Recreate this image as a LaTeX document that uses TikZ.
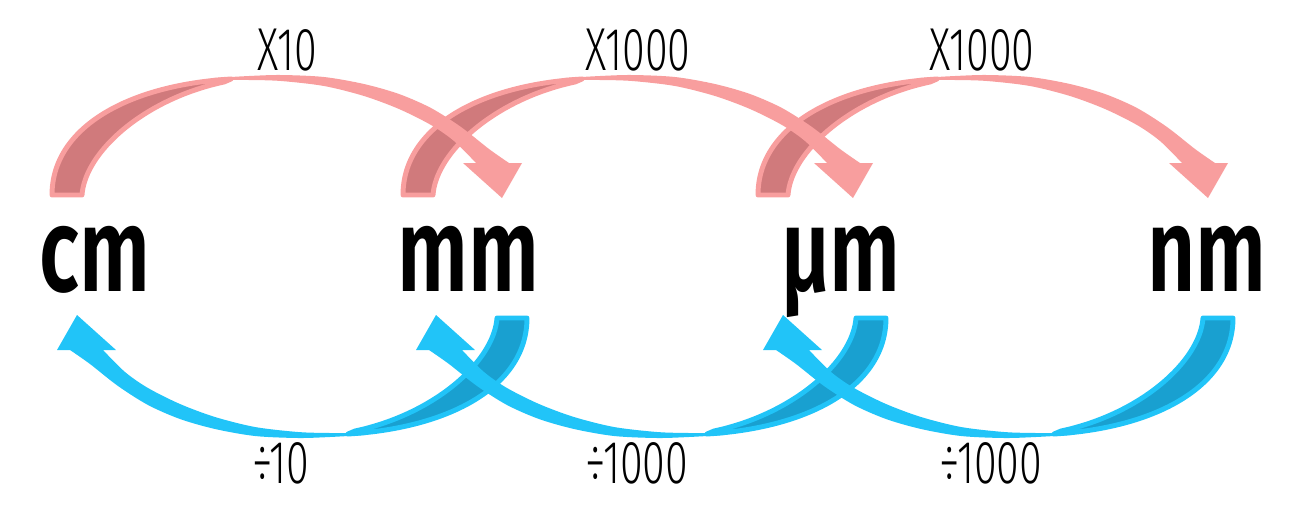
\documentclass[tikz,border=0pt]{standalone}
\usepackage{fontspec}
\usepackage{xcolor}
\newfontfamily\unitfont{Fira Sans SemiBold}[FakeStretch=0.7]
\newfontfamily\factorfont{Fira Sans Light}[FakeStretch=0.68]
\definecolor{arrowpink}{HTML}{F89E9E}
\definecolor{arrowpinkdark}{HTML}{D07A7C}
\definecolor{arrowblue}{HTML}{21C4F8}
\definecolor{arrowbluedark}{HTML}{19A0D0}
\tikzset{unitlabel/.style={anchor=base, inner sep=0pt, font=\unitfont\fontsize{68}{70}\selectfont}}
\tikzset{factorlabel/.style={anchor=base, inner sep=0pt, font=\factorfont\fontsize{34.5}{36}\selectfont}}
\tikzset{backface/.style={line width=2.8pt, line join=round}}
% curled ribbon arrow, base at the origin, head to the right
\newcommand{\curlarrow}[2]{
    \filldraw[backface, fill=#2, draw=#1]
        (3,-2) .. controls (3,-70) and (80,-112) .. (182,-118)
        -- (175,-115) .. controls (95,-98) and (36,-45) .. (33,-2) -- cycle;
    \fill[#1]
        plot[smooth] coordinates {(165,-119) (200,-121) (232,-122) (275,-120) (315,-113) (350,-103) (382,-89) (412,-70) (440,-48) (460,-34)}
        -- (473,-34) -- (453,1) -- (414,-34)
        -- plot[smooth] coordinates {(427,-34) (405,-56) (382,-72) (350,-88) (315,-101) (275,-111) (232,-116) (200,-117) (165,-117)} -- cycle;
}

\begin{document}
\begin{tikzpicture}[x=0.02cm, y=-0.02cm]
    \useasboundingbox (0,0) rectangle (1316,511);

    \begin{scope}[shift={(755,197)}] \curlarrow{arrowpink}{arrowpinkdark} \end{scope}
    \begin{scope}[shift={(400,197)}] \curlarrow{arrowpink}{arrowpinkdark} \end{scope}
    \begin{scope}[shift={(49,197)}]  \curlarrow{arrowpink}{arrowpinkdark} \end{scope}

    \begin{scope}[shift={(530,316)}, rotate=180]  \curlarrow{arrowblue}{arrowbluedark} \end{scope}
    \begin{scope}[shift={(889,316)}, rotate=180]  \curlarrow{arrowblue}{arrowbluedark} \end{scope}
    \begin{scope}[shift={(1236,316)}, rotate=180] \curlarrow{arrowblue}{arrowbluedark} \end{scope}

    \node[unitlabel] (cm) at (95,291)   {cm};
    \node[unitlabel] (mm) at (468,291)  {mm};
    \node[unitlabel] (um) at (841,291)  {µm};
    \node[unitlabel] (nm) at (1207,291) {nm};

    \node[factorlabel] (up1) at (287,70) {X10};
    \node[factorlabel] (up2) at (638,70) {X1000};
    \node[factorlabel] (up3) at (982,70) {X1000};
    \node[factorlabel] (down1) at (281,483) {÷10};
    \node[factorlabel] (down2) at (637,483) {÷1000};
    \node[factorlabel] (down3) at (991,483) {÷1000};
\end{tikzpicture}
\end{document}
